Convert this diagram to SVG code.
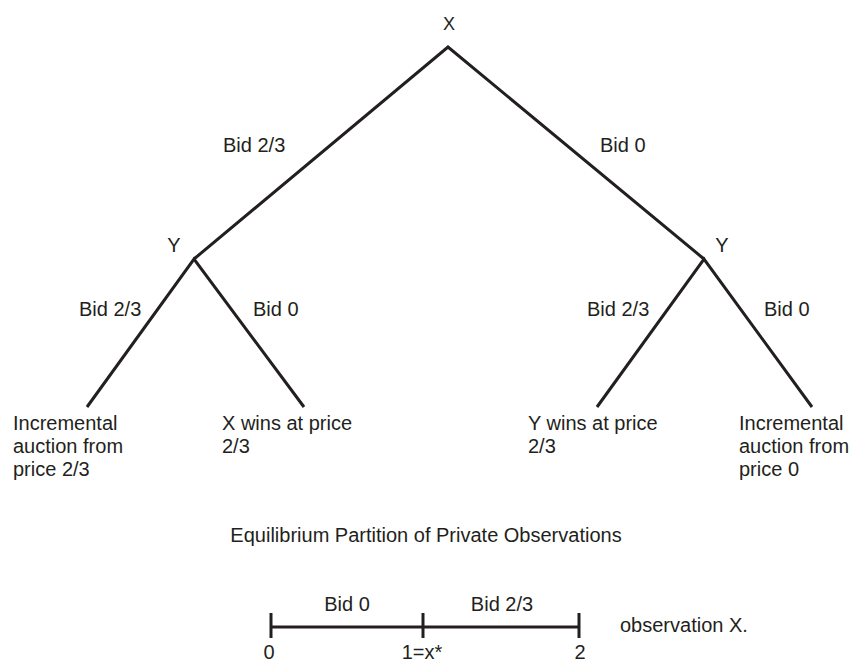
<svg xmlns="http://www.w3.org/2000/svg" width="853" height="662" viewBox="0 0 853 662">
<style>
text{font-family:"Liberation Sans",Arial,sans-serif;font-size:20px;fill:#231f20}
.m{text-anchor:middle}
.e{stroke:#231f20;stroke-width:3;fill:none;stroke-linecap:butt;stroke-linejoin:miter}
</style>
<rect width="853" height="662" fill="#ffffff"/>
<g id="connectors">
<polyline class="e" points="194,259 448,47 704,259"/>
<polyline class="e" points="87,407 194,259 304,407"/>
<polyline class="e" points="597,407 704,259 812,407"/>
</g>
<g id="labels">
<text x="223" y="152">Bid 2/3</text>
<text x="600" y="152">Bid 0</text>
<text x="79" y="316">Bid 2/3</text>
<text x="253" y="316">Bid 0</text>
<text x="587" y="316">Bid 2/3</text>
<text x="764" y="316">Bid 0</text>
</g>
<g id="nodeX"><text class="m" x="449" y="30" style="font-size:18px">X</text></g>
<g id="nodeY1"><text class="m" x="174" y="252">Y</text></g>
<g id="nodeY2"><text class="m" x="722" y="252">Y</text></g>
<g id="leaf1"><text x="13" y="430">Incremental</text><text x="13" y="453">auction from</text><text x="13" y="476">price 2/3</text></g>
<g id="leaf2"><text x="222" y="430">X wins at price</text><text x="222" y="453">2/3</text></g>
<g id="leaf3"><text x="528" y="430">Y wins at price</text><text x="528" y="453">2/3</text></g>
<g id="leaf4"><text x="739" y="430">Incremental</text><text x="739" y="453">auction from</text><text x="739" y="476">price 0</text></g>
<g id="partition">
<text class="m" x="426" y="542">Equilibrium Partition of Private Observations</text>
<line class="e" x1="271" y1="627" x2="579" y2="627"/>
<line class="e" x1="271" y1="613" x2="271" y2="638"/>
<line class="e" x1="423" y1="613" x2="423" y2="638"/>
<line class="e" x1="579" y1="613" x2="579" y2="638"/>
<text class="m" x="347" y="611">Bid 0</text>
<text class="m" x="502" y="611">Bid 2/3</text>
<text x="620" y="632">observation X.</text>
<text class="m" x="269" y="659">0</text>
<text class="m" x="422" y="659">1=x*</text>
<text class="m" x="580" y="659">2</text>
</g>
</svg>
